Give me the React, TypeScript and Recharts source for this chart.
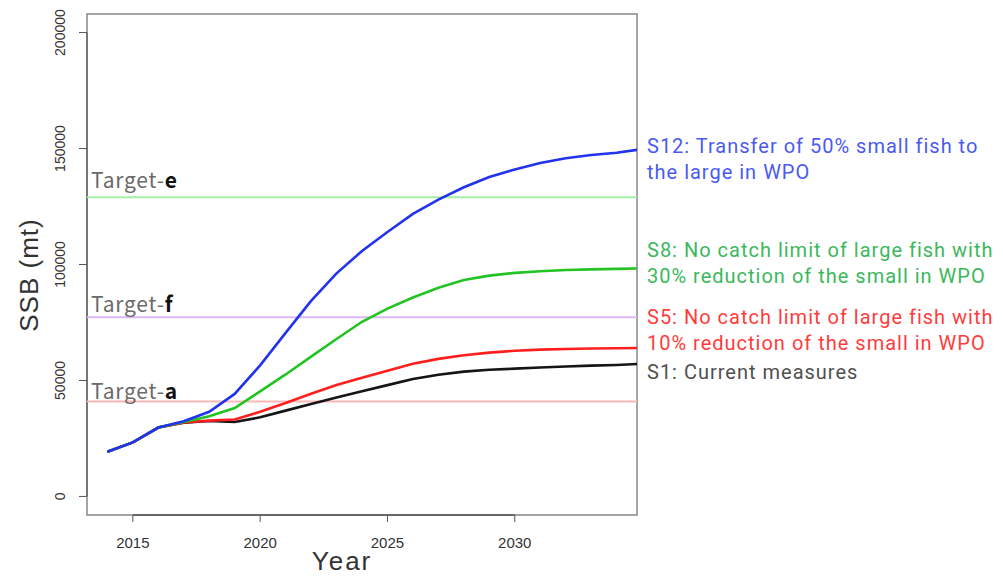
import { LineChart, Line, XAxis, YAxis, ReferenceLine, ReferenceArea } from 'recharts';

// SSB projections by scenario, 2014–2035 (mt)
const years = [2014, 2015, 2016, 2017, 2018, 2019, 2020, 2021, 2022, 2023, 2024,
  2025, 2026, 2027, 2028, 2029, 2030, 2031, 2032, 2033, 2034, 2035];

const s12 = [19300, 23300, 29700, 32400, 36500, 44200, 56500, 70500, 84300, 96200, 105800,
  114000, 121800, 128000, 133300, 137700, 141000, 143800, 145800, 147200, 148200, 149700];
const s8 = [19300, 23300, 29700, 32100, 34600, 38100, 45300, 52600, 60300, 67900, 75300,
  81000, 85800, 90000, 93300, 95200, 96400, 97100, 97600, 97900, 98100, 98300];
const s5 = [19300, 23300, 29700, 31900, 32700, 33200, 36500, 40300, 44300, 48000, 51200,
  54200, 57200, 59300, 60900, 62000, 62800, 63300, 63600, 63800, 63900, 64000];
const s1 = [19300, 23300, 29700, 31800, 32500, 32100, 34100, 37000, 39900, 42700, 45400,
  48000, 50600, 52500, 53800, 54600, 55100, 55600, 56000, 56400, 56700, 57200];

const targets = [
  { key: 'e', value: 129000, color: '#a4f0a4', dy: 9 },
  { key: 'f', value: 77300, color: '#ddb8f8', dy: 5 },
  { key: 'a', value: 40900, color: '#ffb8b8', dy: 3 },
];

const xTicks = [2015, 2020, 2025, 2030];
const yTicks = [0, 50000, 100000, 150000, 200000];
const X_DOMAIN = [2013.2, 2034.8];
const Y_DOMAIN = [-8000, 208000];

const data = years.map((year, i) => ({ year, s12: s12[i], s8: s8[i], s5: s5[i], s1: s1[i] }));

const AXIS_FONT = '"Liberation Sans", Arial, sans-serif';
const LABEL_FONT = '"Noto Sans CJK JP", "Noto Sans", sans-serif';
const NOTE_FONT = 'Roboto, "Noto Sans", sans-serif';

const XTick = ({ x, y, payload }: any) => (
  <text x={x} y={y + 24} textAnchor="middle" fontSize={15} fill="#333" fontFamily={AXIS_FONT}>
    {payload.value}
  </text>
);

const YTick = ({ x, y, payload }: any) => (
  <text
    x={0}
    y={0}
    transform={`translate(${x - 12}, ${y}) rotate(-90)`}
    textAnchor="middle"
    fontSize={14}
    fill="#333"
    fontFamily={AXIS_FONT}
  >
    {payload.value}
  </text>
);

const targetLabel = (key: string, dy: number) => (props: any) => {
  const { viewBox } = props;
  return (
    <text x={viewBox.x + 4} y={viewBox.y - dy} fontSize={21} letterSpacing={0.8} fill="#6a6a6a" fontFamily={LABEL_FONT}>
      Target-<tspan fontWeight="bold" fill="#111">{key}</tspan>
    </text>
  );
};

const notes = [
  { color: '#4a5af2', lines: ['S12: Transfer of 50% small fish to', 'the large in WPO'], y: 153 },
  { color: '#3cb85c', lines: ['S8: No catch limit of large fish with', '30% reduction of the small in WPO'], y: 257 },
  { color: '#ff3c3c', lines: ['S5: No catch limit of large fish with', '10% reduction of the small in WPO'], y: 324 },
  { color: '#505050', lines: ['S1: Current measures'], y: 379 },
];

export default function App() {
  return (
    <div style={{ position: 'absolute', left: 0, top: 0, width: 1003, height: 581, background: '#fff' }}>
      <LineChart width={1003} height={581} data={data} margin={{ top: 14, right: 366, bottom: 0, left: 0 }}>
        <XAxis
          type="number"
          dataKey="year"
          domain={X_DOMAIN}
          ticks={xTicks}
          allowDataOverflow
          axisLine={false}
          tickLine={{ stroke: '#555' }}
          tickSize={7}
          height={66}
          tick={<XTick />}
        />
        <YAxis
          type="number"
          domain={Y_DOMAIN}
          ticks={yTicks}
          allowDataOverflow
          axisLine={false}
          tickLine={{ stroke: '#555' }}
          tickSize={8}
          width={87}
          tick={<YTick />}
        />
        <ReferenceArea x1={X_DOMAIN[0]} x2={X_DOMAIN[1]} y1={Y_DOMAIN[0]} y2={Y_DOMAIN[1]} fill="none" stroke="#888" strokeWidth={1.5} />
        <ReferenceLine segment={[{ x: 2015, y: Y_DOMAIN[0] }, { x: 2030, y: Y_DOMAIN[0] }]} stroke="#555" strokeWidth={1.5} />
        <ReferenceLine segment={[{ x: X_DOMAIN[0], y: 0 }, { x: X_DOMAIN[0], y: 200000 }]} stroke="#666" strokeWidth={1.5} />
        {targets.map((t) => (
          <ReferenceLine key={t.key} y={t.value} stroke={t.color} strokeWidth={2} label={targetLabel(t.key, t.dy)} />
        ))}
        <Line type="linear" dataKey="s1" stroke="#151515" strokeWidth={2.6} dot={false} isAnimationActive={false} />
        <Line type="linear" dataKey="s5" stroke="#ff1e1e" strokeWidth={2.6} dot={false} isAnimationActive={false} />
        <Line type="linear" dataKey="s8" stroke="#22c322" strokeWidth={2.6} dot={false} isAnimationActive={false} />
        <Line type="linear" dataKey="s12" stroke="#2233ee" strokeWidth={2.6} dot={false} isAnimationActive={false} />
      </LineChart>
      <svg width={1003} height={581} style={{ position: 'absolute', left: 0, top: 0, pointerEvents: 'none' }}>
        <text x={0} y={0} transform="translate(38, 275) rotate(-90)" textAnchor="middle" fontSize={26} letterSpacing={1} fill="#333" fontFamily={AXIS_FONT}>
          SSB (mt)
        </text>
        <text x={342} y={570} textAnchor="middle" fontSize={26} letterSpacing={2} fill="#333" fontFamily={AXIS_FONT}>
          Year
        </text>
        {/* scenario notes beside the line ends */}
        {notes.map((n) =>
          n.lines.map((line, i) => (
            <text key={n.y + '-' + i} x={647} y={n.y + i * 26} fontSize={20} letterSpacing={1} fill={n.color} fontFamily={NOTE_FONT}>
              {line}
            </text>
          )),
        )}
      </svg>
    </div>
  );
}
